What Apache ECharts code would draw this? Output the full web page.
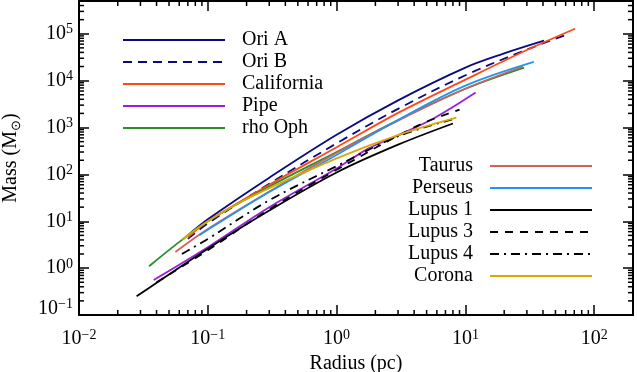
<!DOCTYPE html>
<html>
<head>
<meta charset="utf-8">
<script src="https://cdn.jsdelivr.net/npm/echarts@6/dist/echarts.min.js"></script>
<style>
  html, body { margin: 0; padding: 0; background: #fff; }
  #chart { width: 637px; height: 372px; }
</style>
</head>
<body>
<div id="chart"></div>
<script>
// cumulative mass (Msun) vs radius (pc), [radius, mass]
const oriA = [[0.07, 5], [0.1, 11], [0.3, 85], [1, 700], [3, 3800], [10, 19000], [20, 38000], [40.8, 71000]];
const oriB = [[0.07, 4.2], [0.1, 9], [0.3, 63], [1, 460], [3, 2500], [10, 13000], [30, 46000], [64, 100000]];
const california = [[0.07, 4.5], [0.1, 10], [0.3, 60], [1, 380], [3, 2050], [10, 10500], [30, 45000], [71, 128000]];
const pipe = [[0.038, 0.56], [0.1, 2.8], [0.3, 20], [1, 134], [1.76, 355], [3, 680], [5.8, 1620], [12, 5560]];
const rhoOph = [[0.035, 1.1], [0.063, 4], [0.1, 10], [0.3, 55], [1, 300], [3, 1450], [10, 6700], [28.6, 18900]];
const taurus = [[0.056, 2.2], [0.1, 6.8], [0.3, 43], [1, 290], [3, 1400], [10, 6700], [28, 20000]];
const perseus = [[0.086, 5], [0.1, 6.6], [0.3, 42], [1, 260], [3, 1450], [10, 7800], [34, 25000]];
const lupus1 = [[0.028, 0.25], [0.1, 2.6], [0.3, 17], [1, 110], [3, 430], [8, 1216]];
const lupus3 = [[0.04, 0.5], [0.1, 2.4], [0.3, 18], [1, 125], [4.27, 1100], [9, 2400]];
const lupus4 = [[0.063, 2.0], [0.1, 4.2], [0.3, 28], [1, 150], [3, 650], [8, 1500]];
const corona = [[0.063, 4], [0.1, 10], [0.21, 32], [1, 220], [3, 690], [8.5, 1620]];

const leftNames = ['Ori A', 'Ori B', 'California', 'Pipe', 'rho Oph'];
const rightNames = ['Taurus', 'Perseus', 'Lupus 1', 'Lupus 3', 'Lupus 4', 'Corona'];

// axis ranges and minor tick multipliers
const xRange = [0.01, 200];
const yRange = [0.1, 5e5];
const minorSteps = [2, 3, 4, 5, 6, 7, 8, 9];

const font = 'Liberation Serif';

function minorValues(range) {
  const out = [];
  for (let d = Math.floor(Math.log10(range[0])); d <= Math.ceil(Math.log10(range[1])); d++) {
    for (const k of minorSteps) {
      const v = k * Math.pow(10, d);
      if (v > range[0] && v < range[1]) out.push(v);
    }
  }
  return out;
}

function powLabel(v) {
  const l = Math.log10(v);
  const e = Math.round(l);
  if (Math.abs(l - e) > 1e-6) return '';
  const s = e < 0 ? '\u2212' + (-e) : '' + e;
  return '{b|10}{s|' + s + '}';
}

// lowest y label sits a little above its tick
function yLabel(v) {
  const t = powLabel(v);
  if (t && Math.abs(Math.log10(v) + 1) < 1e-6) return t + '\n{sp|}';
  return t;
}

const labelRich = {
  b: { fontFamily: font, fontSize: 20, lineHeight: 22, color: '#000' },
  s: { fontFamily: font, fontSize: 14, lineHeight: 10, verticalAlign: 'top', color: '#000' },
  sp: { fontSize: 10, lineHeight: 13 }
};

function line(name, data, color, type) {
  return {
    name: name, type: 'line', data: data,
    symbol: 'none', showSymbol: false,
    smooth: 0.35,
    lineStyle: { color: color, width: 1.8, type: type || 'solid' },
    itemStyle: { color: color },
    emphasis: { disabled: true }
  };
}

const axisCommon = {
  type: 'log', logBase: 10,
  axisLine: { lineStyle: { color: '#000', width: 2 } },
  axisTick: { inside: true, length: 10, lineStyle: { color: '#000', width: 1.5 } },
  splitLine: { show: false },
  minorTick: { show: false }
};

const legendCommon = {
  orient: 'vertical', padding: 0, selectedMode: false,
  itemWidth: 102, itemHeight: 22, itemGap: 0,
  itemStyle: { opacity: 0, borderWidth: 0 }
};

const chart = echarts.init(document.getElementById('chart'), null, { renderer: 'canvas' });

chart.setOption({
  animation: false,
  backgroundColor: '#fff',
  grid: { left: 79, right: 4, top: 1, bottom: 57, outerBoundsMode: 'none', containLabel: false },
  xAxis: [
    Object.assign({}, axisCommon, {
      min: xRange[0], max: xRange[1], position: 'bottom',
      name: 'Radius (pc)', nameLocation: 'middle', nameGap: 33,
      nameTextStyle: { fontFamily: font, fontSize: 20, color: '#000' },
      axisLabel: { margin: 13, formatter: powLabel, rich: labelRich, showMaxLabel: false }
    }),
    Object.assign({}, axisCommon, {
      min: xRange[0], max: xRange[1], position: 'top', axisLabel: { show: false }
    })
  ],
  yAxis: [
    Object.assign({}, axisCommon, {
      min: yRange[0], max: yRange[1], position: 'left',
      name: '{n|Mass (M}{sub|\u2299}{n|)}', nameLocation: 'middle', nameGap: 56,
      nameTextStyle: {
        rich: {
          n: { fontFamily: font, fontSize: 20, lineHeight: 24, color: '#000' },
          sub: { fontFamily: font, fontSize: 13, lineHeight: 16, verticalAlign: 'bottom', color: '#000' }
        }
      },
      axisLabel: { margin: 6, formatter: yLabel, rich: labelRich, showMaxLabel: false }
    }),
    Object.assign({}, axisCommon, {
      min: yRange[0], max: yRange[1], position: 'right', axisLabel: { show: false }
    })
  ],
  legend: [
    Object.assign({}, legendCommon, {
      data: leftNames, left: 122, top: 29,
      textStyle: { fontFamily: font, fontSize: 20, color: '#000', lineHeight: 22, padding: [0, 0, 0, 12] }
    }),
    Object.assign({}, legendCommon, {
      data: rightNames, align: 'right', right: 44, top: 155,
      textStyle: { fontFamily: font, fontSize: 20, color: '#000', lineHeight: 22, padding: [0, 12, 0, 0] }
    })
  ],
  series: [
    line('Ori A', oriA, '#0a0a80'),
    line('Ori B', oriB, '#0a0a80', [9, 6]),
    line('California', california, '#ff4a14'),
    line('Pipe', pipe, '#9b1de0'),
    line('rho Oph', rhoOph, '#2a8c2a'),
    line('Taurus', taurus, '#d4605c'),
    line('Perseus', perseus, '#2294f2'),
    line('Lupus 1', lupus1, '#000000'),
    line('Lupus 3', lupus3, '#000000', [8, 7]),
    line('Lupus 4', lupus4, '#000000', [9, 5, 2, 5]),
    line('Corona', corona, '#d9a900'),
    {
      type: 'custom', silent: true, z: 5,
      data: minorValues(xRange).map(v => [v, yRange[0]]),
      renderItem: function (params, api) {
        const p = api.coord([api.value(0), yRange[0]]);
        const top = params.coordSys.y, bottom = top + params.coordSys.height;
        const st = { stroke: '#000', lineWidth: 1.5 };
        return { type: 'group', children: [
          { type: 'line', shape: { x1: p[0], y1: bottom, x2: p[0], y2: bottom - 5 }, style: st },
          { type: 'line', shape: { x1: p[0], y1: top, x2: p[0], y2: top + 5 }, style: st }
        ] };
      }
    },
    {
      type: 'custom', silent: true, z: 5,
      data: minorValues(yRange).map(v => [xRange[0], v]),
      renderItem: function (params, api) {
        const p = api.coord([xRange[0], api.value(1)]);
        const left = params.coordSys.x, right = left + params.coordSys.width;
        const st = { stroke: '#000', lineWidth: 1.5 };
        return { type: 'group', children: [
          { type: 'line', shape: { x1: left, y1: p[1], x2: left + 5, y2: p[1] }, style: st },
          { type: 'line', shape: { x1: right, y1: p[1], x2: right - 5, y2: p[1] }, style: st }
        ] };
      }
    }
  ]
});
</script>
</body>
</html>
